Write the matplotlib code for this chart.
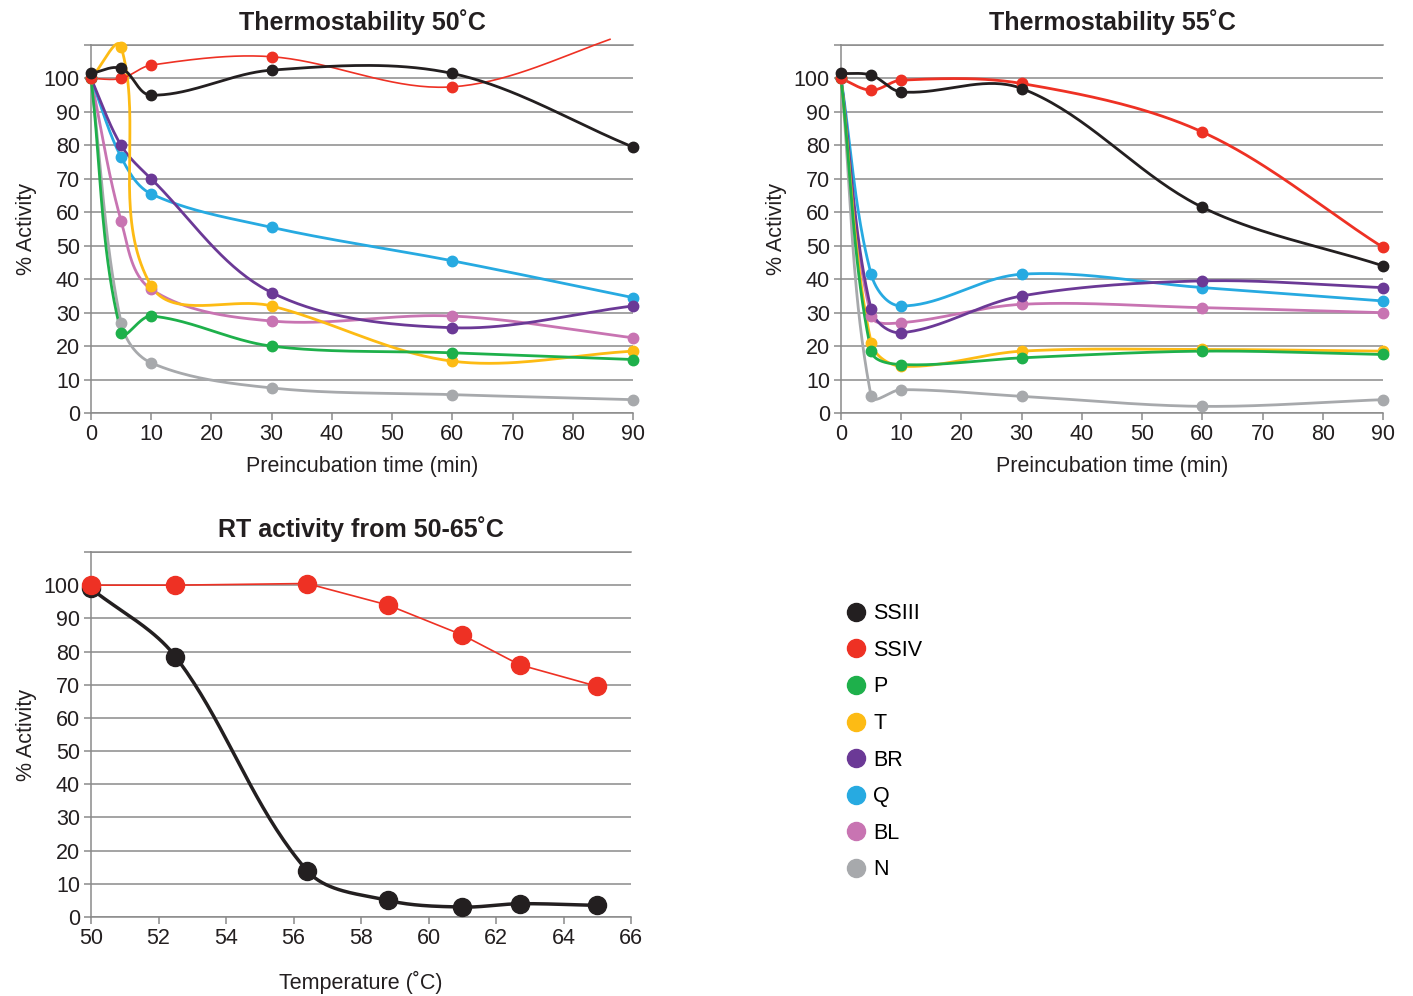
import numpy as np
import matplotlib
matplotlib.use('Agg')
import matplotlib.pyplot as plt
from matplotlib.lines import Line2D

plt.rcParams['font.family'] = ['Liberation Sans', 'DejaVu Sans']

# Data
time_min = [0, 5, 10, 30, 60, 90]
names = ['SSIII', 'SSIV', 'P', 'T', 'BR', 'Q', 'BL', 'N']
colors = ['#231f20', '#ee3124', '#1eb04b', '#fdbb14', '#6b3996', '#27aae1', '#c874b2', '#a7a9ac']

act_50 = {
    'SSIII': [101.5, 103, 95, 102.5, 101.5, 79.5],
    'SSIV': [100, 100, 104, 106.5, 97.5, 114],
    'P': [100, 24, 29, 20, 18, 16],
    'T': [100, 109.5, 38, 32, 15.5, 18.5],
    'BR': [100, 80, 70, 36, 25.5, 32],
    'Q': [100, 76.5, 65.5, 55.5, 45.5, 34.5],
    'BL': [100, 57.5, 37, 27.5, 29, 22.5],
    'N': [100, 27, 15, 7.5, 5.5, 4],
}
act_55 = {
    'SSIII': [101.5, 101, 96, 97, 61.5, 44],
    'SSIV': [100, 96.5, 99.5, 98.5, 84, 49.5],
    'P': [100, 18.5, 14.5, 16.5, 18.5, 17.5],
    'T': [100, 21, 14, 18.5, 19, 18.5],
    'BR': [100, 31, 24, 35, 39.5, 37.5],
    'Q': [100, 41.5, 32, 41.5, 37.5, 33.5],
    'BL': [100, 29, 27, 32.5, 31.5, 30],
    'N': [100, 5, 7, 5, 2, 4],
}
temp_c = [50, 52.5, 56.4, 58.8, 61, 62.7, 65]
rt_ssiii = [99, 78.5, 14, 5, 3, 4, 3.5]
rt_ssiv = [100, 100, 100.5, 94, 85, 76, 69.5]

GRID = '#8a8a8a'
INK = '#231f20'


def smooth(ax, x, y, n=40):
    # Bezier "smoothed line" built in screen units, control arms scaled by segment length
    fig.canvas.draw_idle()
    pts = ax.transData.transform(np.column_stack([x, y]).astype(float))
    m = len(pts)
    d = np.zeros_like(pts)
    for i in range(m):
        a = pts[max(i - 1, 0)]
        b = pts[min(i + 1, m - 1)]
        v = b - a
        d[i] = v / np.hypot(*v)
    t = np.linspace(0, 1, n)[:, None]
    segs = []
    for i in range(m - 1):
        p0, p3 = pts[i], pts[i + 1]
        L = np.hypot(*(p3 - p0)) / 3
        p1 = p0 + d[i] * L
        p2 = p3 - d[i + 1] * L
        segs.append((1 - t) ** 3 * p0 + 3 * (1 - t) ** 2 * t * p1 + 3 * (1 - t) * t ** 2 * p2 + t ** 3 * p3)
    c = ax.transData.inverted().transform(np.vstack(segs))
    return c[:, 0], c[:, 1]


def style_axes(ax, xticks, title, xlabel, labelpad=8):
    ax.set_ylim(0, 110)
    ax.set_yticks(range(0, 111, 10))
    ax.set_yticklabels([str(v) if v <= 100 else '' for v in range(0, 111, 10)])
    ax.set_xticks(xticks)
    ax.set_xlim(xticks[0], xticks[-1])
    ax.grid(axis='y', color=GRID, lw=1.1)
    ax.set_axisbelow(True)
    ax.spines['right'].set_visible(False)
    for s in ['left', 'bottom', 'top']:
        ax.spines[s].set_color(GRID)
        ax.spines[s].set_linewidth(1.1)
    ax.tick_params(axis='both', direction='out', length=5, width=1.1, color=GRID,
                   labelsize=15.5, pad=3, labelcolor=INK)
    ax.set_title(title, fontsize=18, fontweight='bold', color=INK, pad=11)
    ax.set_xlabel(xlabel, fontsize=15.5, color=INK, labelpad=labelpad)
    ax.set_ylabel('% Activity', fontsize=15.5, color=INK, labelpad=5)


fig = plt.figure(figsize=(14.13, 9.96), dpi=100)
ax1 = fig.add_axes([0.0644, 0.5853, 0.3836, 0.3695])
ax2 = fig.add_axes([0.5952, 0.5853, 0.3836, 0.3695])
ax3 = fig.add_axes([0.0644, 0.0793, 0.3822, 0.3665])

style_axes(ax1, list(range(0, 91, 10)), 'Thermostability 50˚C', 'Preincubation time (min)')
style_axes(ax2, list(range(0, 91, 10)), 'Thermostability 55˚C', 'Preincubation time (min)')
style_axes(ax3, list(range(50, 67, 2)), 'RT activity from 50-65˚C', 'Temperature (˚C)', labelpad=16)

# draw N first so SSIII ends up on top
for ax, data in [(ax1, act_50), (ax2, act_55)]:
    for k, (name, col) in enumerate(reversed(list(zip(names, colors)))):
        y = np.array(data[name], dtype=float)
        sx, sy = smooth(ax, time_min, y)
        sy = np.where(sy > 112, np.nan, sy)
        lw = 1.2 if (name == 'SSIV' and ax is ax1) else 2.0
        ax.plot(sx, sy, color=col, lw=lw, clip_on=False, zorder=3 + k * 0.01)
        show = y <= 110
        ax.plot(np.array(time_min)[show], y[show], 'o', color=col, ms=7.5,
                clip_on=False, zorder=4 + k * 0.01)

sx, sy = smooth(ax3, temp_c, rt_ssiii)
ax3.plot(sx, sy, color=colors[0], lw=2.5, zorder=3, clip_on=False)
ax3.plot(temp_c, rt_ssiii, 'o', color=colors[0], ms=13, zorder=4, clip_on=False)
ax3.plot(temp_c, rt_ssiv, '-', color=colors[1], lw=1.2, zorder=3, clip_on=False)
ax3.plot(temp_c, rt_ssiv, 'o', color=colors[1], ms=13, zorder=4, clip_on=False)

handles = [Line2D([], [], marker='o', ls='', color=c, ms=13) for c in colors]
fig.legend(handles, names, loc='upper left', bbox_to_anchor=(0.5905, 0.403),
           frameon=False, fontsize=15.5, handletextpad=0.2, labelspacing=0.725,
           handlelength=1.2, borderaxespad=0)

fig.savefig('out.png', dpi=100)
